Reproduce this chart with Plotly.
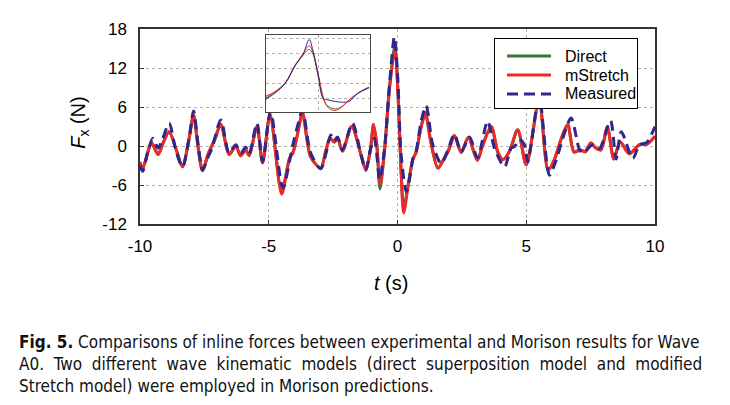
import plotly.graph_objects as go

# ---------------- data ----------------
t_meas = [-10.0, -9.9, -9.7, -9.5, -9.3, -9.13, -8.87, -8.6, -8.35, -8.1, -7.92, -7.75,
          -7.57, -7.38, -7.2, -6.86, -6.54, -6.28, -6.09, -5.89, -5.76, -5.46, -5.24,
          -4.93, -4.45, -4.08, -3.88, -3.69, -3.37, -2.98, -2.78, -2.59, -2.45, -2.33,
          -2.14, -1.75, -1.42, -1.23, -1.05, -0.9, -0.8, -0.7, -0.5, -0.31, -0.12, 0.01,
          0.14, 0.34, 0.47, 0.6, 0.72, 0.92, 1.11, 1.37, 1.7, 1.95, 2.21, 2.47, 2.8, 3.1,
          3.5, 3.77, 4.16, 4.41, 4.54, 4.74, 4.93, 5.06, 5.5, 5.9, 6.16, 6.42, 6.74, 7.07,
          7.2, 7.39, 7.58, 7.84, 8.27, 8.49, 8.69, 9.14, 9.4, 9.67, 10.0]
f_meas = [-3.0, -3.9, -1.0, 1.2, -0.3, 1.0, 3.5, -0.8, -3.2, 1.0, 5.4, 0.5,
          -3.7, -1.9, -0.3, 4.0, -1.1, 0.2, -1.1, -0.2, -1.2, 3.5, -2.4,
          5.3, -6.4, -0.1, 3.1, 5.5, -1.1, -3.5, -1.2, 1.7, 0.8, 1.4,
          -0.6, 3.5, -1.3, -3.7, -0.5, 1.2, -1.5, -5.2, -0.3, 9.5, 16.8, 10.5,
          -1.3, -7.0, -5.0, -1.9, -0.8, 3.8, 6.2, 0.2, -2.7, -0.7, 1.8, -0.9, 1.4, -1.8,
          3.8, -0.4, -3.2, -0.3, -0.1, 1.0, 0.2, -2.4, 7.5, -4.5, -2.2, 1.2, 4.3, -0.6,
          -1.1, -0.4, 0.2, -0.4, 3.9, -2.0, 2.2, -1.9, 0.2, 0.5, 3.0]

t_model = [-10.0, -9.9, -9.7, -9.55, -9.3, -9.1, -8.87, -8.6, -8.35, -8.1, -7.92, -7.75,
           -7.57, -7.35, -7.1, -6.86, -6.54, -6.28, -6.09, -5.89, -5.76, -5.46, -5.24,
           -4.95, -4.5, -4.2, -4.05, -3.9, -3.69, -3.37, -2.98, -2.8, -2.62, -2.45, -2.33,
           -2.14, -1.78, -1.4, -1.23, -1.05, -0.93, -0.8, -0.68, -0.5, -0.31, -0.1, 0.02,
           0.14, 0.24, 0.4, 0.6, 0.72, 0.92, 1.08, 1.3, 1.57, 1.8, 2.0, 2.21, 2.47, 2.75,
           3.1, 3.3, 3.64, 3.9, 4.1, 4.35, 4.67, 5.0, 5.5, 5.85, 6.1, 6.35, 6.61, 6.85,
           7.1, 7.3, 7.5, 7.7, 7.9, 8.15, 8.4, 8.65, 9.0, 9.4, 9.7, 10.0]
f_mstretch = [-2.5, -3.5, -1.0, 0.5, -1.3, 0.5, 2.2, -0.5, -3.2, 1.0, 4.8, 0.0,
              -3.8, -1.2, 1.0, 3.3, -1.3, 0.0, -1.5, -0.6, -1.5, 3.0, -2.6,
              4.8, -7.4, -2.0, -0.9, 1.5, 5.0, -1.7, -3.4, -1.0, 1.2, 0.6, 1.3,
              -0.8, 3.0, -1.6, -3.7, -0.5, 3.3, 0.0, -5.9, -0.5, 9.0, 14.8, 8.0,
              -4.0, -10.3, -6.5, -2.0, -1.0, 3.0, 4.9, 0.5, -3.4, -2.0, -0.5, 1.6, -1.0, 1.3,
              -2.2, 0.0, 3.0, -1.0, -2.1, -0.8, 2.5, -2.9, 7.0, -3.7, -2.0, 1.0, 3.3, -0.9,
              -0.6, -0.9, 0.5, -0.3, -0.6, 2.9, -2.0, 0.6, -1.2, 0.2, 0.3, 1.5]
f_direct = [-2.5, -3.5, -1.0, 0.5, -1.3, 0.5, 2.2, -0.5, -3.2, 1.0, 4.8, 0.0,
            -3.8, -1.2, 1.0, 3.3, -1.3, 0.0, -1.5, -0.6, -1.5, 3.0, -2.6,
            4.8, -7.0, -2.0, -0.9, 1.5, 5.0, -1.7, -3.4, -1.0, 1.2, 0.6, 1.3,
            -0.8, 3.0, -1.6, -3.7, -0.5, 3.3, 0.0, -6.6, -0.5, 9.0, 15.5, 8.0,
            -3.8, -9.6, -6.3, -2.0, -1.0, 3.0, 5.2, 0.5, -3.4, -2.0, -0.5, 1.6, -1.0, 1.3,
            -2.2, 0.0, 3.0, -1.0, -2.1, -0.8, 2.5, -2.9, 7.0, -3.7, -2.0, 1.0, 3.3, -0.9,
            -0.6, -0.9, 0.3, -0.3, -0.6, 2.9, -2.0, 0.6, -1.2, 0.2, 0.3, 1.5]

# inset (zoomed detail, arbitrary units)
inset_x = [-1.0, -0.83, -0.63, -0.44, -0.29, -0.17, -0.1, 0.0, 0.1, 0.19, 0.33, 0.45, 0.6, 0.77, 0.98]
inset_meas = [-0.05, 0.35, 1.0, 2.2, 2.9, 3.9, 3.2, 1.55, 0.0, -0.1, -0.2, -0.25, -0.2, 0.35, 0.75]
inset_mstretch = [0.15, 0.45, 1.05, 2.2, 2.95, 3.5, 3.1, 1.7, 0.1, -0.6, -0.8, -0.6, -0.1, 0.35, 0.7]
inset_direct = [0.05, 0.4, 1.0, 2.15, 2.85, 3.25, 2.95, 1.6, 0.0, -0.5, -0.7, -0.55, -0.1, 0.35, 0.7]

series_names = ["Direct", "mStretch", "Measured"]

x_ticks = [-10, -5, 0, 5, 10]
x_ticklabels = ["-10", "-5", "0", "5", "10"]
y_ticks = [-12, -6, 0, 6, 12, 18]
y_ticklabels = ["-12", "-6", "0", "6", "12", "18"]

caption_lines = [
    "<b>Fig. 5.</b> Comparisons of inline forces between experimental and Morison results for Wave",
    "A0. Two different wave kinematic models (direct superposition model and modified",
    "Stretch model) were employed in Morison predictions.",
]
caption_gap = [" ", " &nbsp;", " "]  # word spacing per line (line 2 is justified in the original)

# ---------------- styles ----------------
C_DIRECT = "rgb(60,115,60)"
C_MSTR = "rgb(240,40,40)"
C_MEAS = "rgb(48,38,140)"
colors = [C_DIRECT, C_MSTR, C_MEAS]
dashes = ["solid", "solid", "10px,6px"]
FONT = "Liberation Sans, Arial, sans-serif"

fig = go.Figure()
for tt, ff, nm, col, ds in zip([t_model, t_model, t_meas], [f_direct, f_mstretch, f_meas],
                               series_names, colors, dashes):
    fig.add_trace(go.Scatter(x=tt, y=ff, name=nm, mode="lines", showlegend=False,
                             line=dict(color=col, width=3, dash=ds, shape="spline", smoothing=0.8)))

# inset traces
for ff, col in zip([inset_direct, inset_mstretch, inset_meas], colors):
    fig.add_trace(go.Scatter(x=inset_x, y=ff, xaxis="x2", yaxis="y2", mode="lines",
                             showlegend=False, line=dict(color=col, width=1, shape="spline")))

# legend panel: its own small subplot (box 142 x 69 units), so it covers the curves
leg_rows = [52, 33, 14]
for nm, col, ds, yy in zip(series_names, colors, dashes, leg_rows):
    fig.add_trace(go.Scatter(x=[12, 56], y=[yy, yy], xaxis="x3", yaxis="y3", mode="lines",
                             showlegend=False, hoverinfo="skip",
                             line=dict(color=col, width=3, dash="solid" if ds == "solid" else "11px,6px")))
    fig.add_annotation(text=nm, xref="x3", yref="y3", x=68, y=yy, xanchor="left",
                       yanchor="middle", showarrow=False, font=dict(size=16, family=FONT))

grid = dict(showgrid=True, gridcolor="#b0b0b0", griddash="dot", gridwidth=1, zeroline=False)
bare = dict(showgrid=False, zeroline=False, showticklabels=False, ticks="",
            showline=True, linecolor="black", linewidth=1, mirror=True)

fig.update_layout(
    width=730, height=405,
    margin=dict(l=140, r=75, t=29, b=181),
    paper_bgcolor="white", plot_bgcolor="#fffffe",
    font=dict(family=FONT, color="black"),
    showlegend=False,
    xaxis=dict(range=[-10, 10], tickvals=x_ticks, ticktext=x_ticklabels,
               ticks="inside", ticklen=4, tickcolor="#333",
               showline=True, linecolor="#333", linewidth=1.5, mirror=True,
               tickfont=dict(size=17), ticklabelstandoff=6, **grid),
    yaxis=dict(range=[-12, 18], tickvals=y_ticks, ticktext=y_ticklabels,
               ticks="inside", ticklen=4, tickcolor="#333",
               showline=True, linecolor="#333", linewidth=1.5, mirror=True,
               tickfont=dict(size=17), ticklabelstandoff=8, **grid),
    xaxis2=dict(domain=[0.2447, 0.4466], anchor="y2", range=[-1.0, 1.0],
                tickvals=[0], showticklabels=False, ticks="",
                showline=True, linecolor="#444", linewidth=1, mirror=True, **grid),
    yaxis2=dict(domain=[0.5744, 0.969], anchor="x2", range=[-0.9, 4.2],
                tickvals=[0, 1, 2, 3, 4], showticklabels=False, ticks="",
                showline=True, linecolor="#444", linewidth=1, mirror=True, **grid),
    xaxis3=dict(domain=[0.6893, 0.9650], anchor="y3", range=[0, 142], **bare),
    yaxis3=dict(domain=[0.5949, 0.9487], anchor="x3", range=[0, 69], **bare),
)

# axis titles as annotations
fig.add_annotation(text="<i>F</i><sub>x</sub> (N)", xref="paper", yref="paper",
                   x=-0.118, y=0.52, textangle=-90, showarrow=False,
                   font=dict(size=20, family=FONT), xanchor="center", yanchor="middle")
fig.add_annotation(text="<i>t</i> (s)", xref="paper", yref="paper",
                   x=0.487, y=-0.30, showarrow=False,
                   font=dict(size=20, family=FONT), xanchor="center", yanchor="middle")

cap_y = [-0.605, -0.718, -0.831]
for line, gap, yy in zip(caption_lines, caption_gap, cap_y):
    fig.add_annotation(text=line.replace(" ", gap) if gap != " " else line,
                       xref="paper", yref="paper", x=-0.2388, y=yy,
                       xanchor="left", yanchor="middle", showarrow=False, align="left",
                       font=dict(size=17, family="Liberation Sans Narrow, DejaVu Sans Condensed, sans-serif",
                                 color="#111"))

fig.write_html("out.html")
